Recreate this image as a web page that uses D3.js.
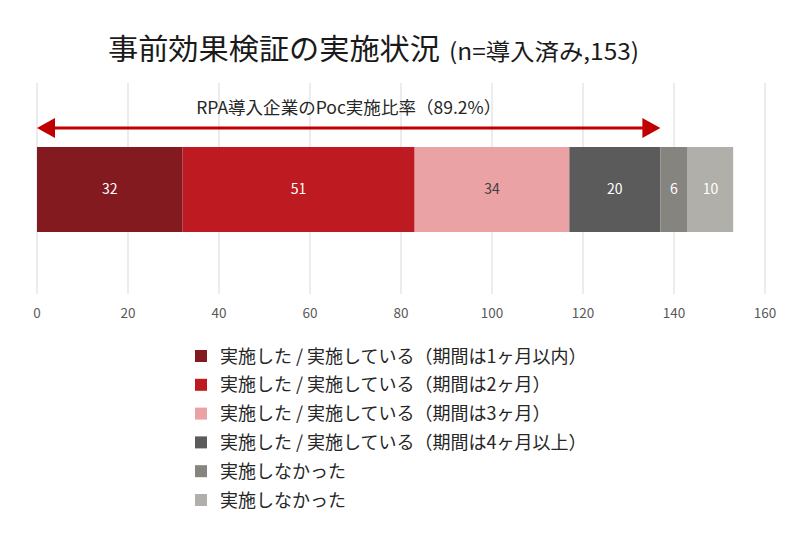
<!DOCTYPE html>
<html lang="ja">
<head>
<meta charset="UTF-8">
<title>事前効果検証の実施状況</title>
<script src="https://d3js.org/d3.v7.min.js"></script>
<style>
  body { margin: 0; background: #fff; }
  svg { display: block; font-family: "Noto Sans CJK JP", "Noto Sans", sans-serif; }
  .grid line { stroke: #d9d9d9; stroke-width: 1; }
  .tick-label { font-size: 13.5px; fill: #595959; }
  .seg-label { font-size: 14px; }
  .legend text { font-size: 18px; fill: #262626; }
</style>
</head>
<body>
<svg width="800" height="538"></svg>
<script>
// === Data ===
const categories = [
  "実施した / 実施している（期間は1ヶ月以内）",
  "実施した / 実施している（期間は2ヶ月）",
  "実施した / 実施している（期間は3ヶ月）",
  "実施した / 実施している（期間は4ヶ月以上）",
  "実施しなかった",
  "実施しなかった"
];
const values = [32, 51, 34, 20, 6, 10];
const colors = ["#831a20", "#be1a22", "#eba2a5", "#5c5b5b", "#85847f", "#b0afaa"];
const labelColors = ["#fff", "#fff", "#404040", "#fff", "#fff", "#fff"];
const ticks = [0, 20, 40, 60, 80, 100, 120, 140, 160];
const arrowLabel = "RPA導入企業のPoc実施比率（89.2%）";
const arrowCount = 4; // first four segments = Poc実施

const svg = d3.select("svg");

const x = d3.scaleLinear().domain([0, 160]).range([37, 765]);

// === Title ===
const title = svg.append("text")
  .attr("x", 108)
  .attr("y", 60)
  .attr("fill", "#1a1a1a");
title.append("tspan")
  .attr("font-size", 29)
  .attr("textLength", 332)
  .attr("lengthAdjust", "spacingAndGlyphs")
  .text("事前効果検証の実施状況");
title.append("tspan")
  .attr("x", 449)
  .attr("font-size", 23)
  .attr("textLength", 190)
  .attr("lengthAdjust", "spacingAndGlyphs")
  .text("(n=導入済み,153)");

// === Grid ===
svg.append("g").attr("class", "grid")
  .selectAll("line")
  .data(ticks)
  .join("line")
  .attr("x1", d => x(d)).attr("x2", d => x(d))
  .attr("y1", 83).attr("y2", 294);

svg.append("g")
  .selectAll("text")
  .data(ticks)
  .join("text")
  .attr("class", "tick-label")
  .attr("x", d => x(d))
  .attr("y", 318)
  .attr("text-anchor", "middle")
  .text(d => d);

// === Stacked bar ===
let acc = 0;
const segs = values.map((v, i) => {
  const s = { v, i, x0: acc, x1: acc + v };
  acc += v;
  return s;
});

svg.append("g")
  .selectAll("rect")
  .data(segs)
  .join("rect")
  .attr("x", d => x(d.x0))
  .attr("y", 147)
  .attr("width", d => x(d.x1) - x(d.x0))
  .attr("height", 85)
  .attr("fill", d => colors[d.i]);

svg.append("g")
  .selectAll("text")
  .data(segs)
  .join("text")
  .attr("class", "seg-label")
  .attr("x", d => x((d.x0 + d.x1) / 2))
  .attr("y", 194)
  .attr("text-anchor", "middle")
  .attr("fill", d => labelColors[d.i])
  .text(d => d.v);

// === Arrow ===
const arrowEnd = d3.sum(values.slice(0, arrowCount));
const ay = 128;
const ax0 = x(0), ax1 = x(arrowEnd);
svg.append("line")
  .attr("x1", ax0 + 10).attr("x2", ax1 - 10)
  .attr("y1", ay).attr("y2", ay)
  .attr("stroke", "#c00000").attr("stroke-width", 3);
svg.append("path")
  .attr("d", `M${ax0},${ay} L${ax0 + 18},${ay - 10} L${ax0 + 18},${ay + 10} Z`)
  .attr("fill", "#c00000");
svg.append("path")
  .attr("d", `M${ax1},${ay} L${ax1 - 18},${ay - 10} L${ax1 - 18},${ay + 10} Z`)
  .attr("fill", "#c00000");
svg.append("text")
  .attr("x", (ax0 + ax1) / 2)
  .attr("y", 114)
  .attr("text-anchor", "middle")
  .attr("font-size", 17)
  .attr("fill", "#262626")
  .attr("textLength", 305)
  .attr("lengthAdjust", "spacingAndGlyphs")
  .text(arrowLabel);

// === Legend ===
const legend = svg.append("g").attr("class", "legend")
  .selectAll("g")
  .data(categories)
  .join("g")
  .attr("transform", (d, i) => `translate(195,${356 + i * 28.8})`);

legend.append("rect")
  .attr("x", 0).attr("y", -6)
  .attr("width", 12).attr("height", 12)
  .attr("fill", (d, i) => colors[i]);

legend.append("text")
  .attr("x", 25)
  .attr("y", 6.5)
  .text(d => d);
</script>
</body>
</html>
